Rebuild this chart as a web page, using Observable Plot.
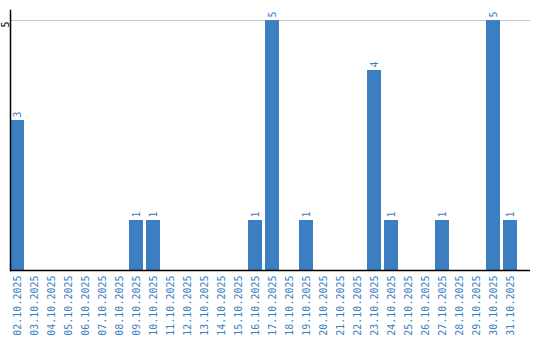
<!DOCTYPE html>
<html><head><meta charset="utf-8">
<script src="https://cdn.jsdelivr.net/npm/d3@7"></script>
<script src="https://cdn.jsdelivr.net/npm/@observablehq/plot@0.6"></script>
<style>body{margin:0;background:#fff}</style>
</head><body><div id="chart"></div>
<script>
const dates = ["02.10.2025","03.10.2025","04.10.2025","05.10.2025","06.10.2025","07.10.2025","08.10.2025","09.10.2025","10.10.2025","11.10.2025","12.10.2025","13.10.2025","14.10.2025","15.10.2025","16.10.2025","17.10.2025","18.10.2025","19.10.2025","20.10.2025","21.10.2025","22.10.2025","23.10.2025","24.10.2025","25.10.2025","26.10.2025","27.10.2025","28.10.2025","29.10.2025","30.10.2025","31.10.2025"];
const counts = [3,0,0,0,0,0,0,1,1,0,0,0,0,0,1,5,0,1,0,0,0,4,1,0,0,1,0,0,5,1];
const yTicks = [5];

const data = dates.map((d, i) => ({date: d, value: counts[i]}));
const nonzero = data.filter(d => d.value > 0);
const blue = "#3b7ec2";
const font = "DejaVu Sans Mono";

const chart = Plot.plot({
  width: 540, height: 340,
  marginLeft: 10, marginRight: 10, marginTop: 10, marginBottom: 70,
  style: {fontFamily: font, fontSize: "10px", background: "#fff"},
  x: {domain: dates, range: [10, 518], paddingInner: 0.18, paddingOuter: 0, align: 0},
  y: {domain: [0, 5.2], ticks: yTicks},
  marks: [
    Plot.ruleY(yTicks, {stroke: "#c8c8c8", strokeWidth: 1}),
    Plot.barY(nonzero, {x: "date", y: "value", fill: blue}),
    Plot.text(nonzero, {x: "date", y: "value", text: d => String(d.value), rotate: -90, textAnchor: "start", dy: -3, fill: blue, fontSize: 10}),
    Plot.axisX({tickSize: 0, tickPadding: 5, tickRotate: -90, fill: blue, fontSize: 10, label: null}),
    Plot.axisY(yTicks, {tickSize: 0, tickPadding: 2, tickRotate: -90, tickFormat: d => String(d), dy: 4, fill: "#000", fontSize: 10, label: null}),
    Plot.ruleY([0], {stroke: "#000", strokeWidth: 1.5}),
    Plot.frame({anchor: "left", stroke: "#000", strokeWidth: 1.5})
  ]
});
document.getElementById("chart").append(chart);
</script>
</body></html>
